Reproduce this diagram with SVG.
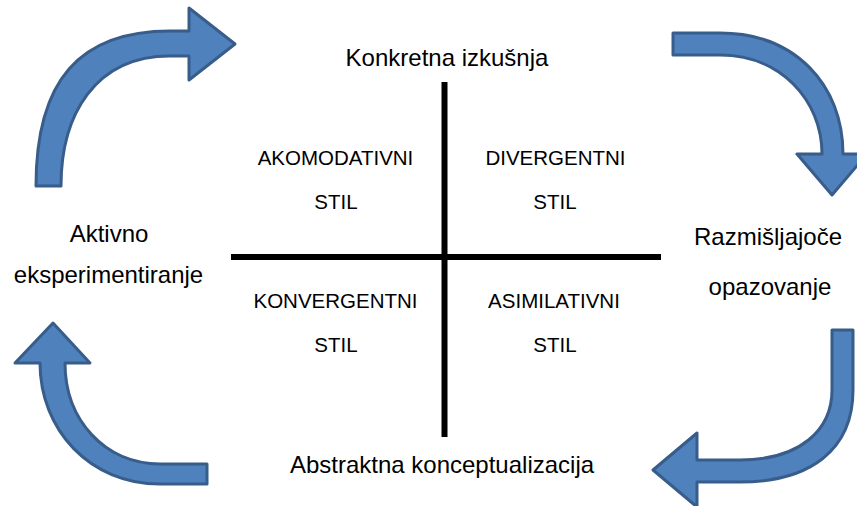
<svg xmlns="http://www.w3.org/2000/svg" width="857" height="506" viewBox="0 0 857 506">
<style>
.arrow{fill:#4F81BD;stroke:#385D8A;stroke-width:3;stroke-linejoin:round}
.axis{stroke:#000;stroke-width:6;fill:none}
.t{font-family:"Liberation Sans",Arial,sans-serif;font-size:24px;fill:#000;text-anchor:middle}
.q{font-family:"Liberation Sans",Arial,sans-serif;font-size:20.5px;fill:#000;text-anchor:middle}
</style>
<rect width="857" height="506" fill="#fff"/>
<g id="connectors">
<path class="arrow" d="M36,186 C36,80 80,31 170,31 L189,31 L189,8 L235,44 L189,80 L189,56 L170,56 C95,56 61,115 61,186 Z"/>
<path class="arrow" d="M673,33 L720,33 C795,33 843,85 843,154 L867,154 L832,195 L797,154 L822,154 C822,100 780,55 720,55 L673,55 Z"/>
<path class="arrow" d="M832,330 L853,330 L853,390 C853,450 810,482 740,482 L697,482 L697,507 L653,470 L697,433 L697,460 L740,460 C800,460 832,430 832,390 Z"/>
<path class="arrow" d="M207,464 L207,484 L160,484 C90,484 40,430 40,363 L15,363 L53,323 L90,363 L65,363 C65,420 105,464 160,464 Z"/>
</g>
<g id="axes">
<line class="axis" x1="444.5" y1="82" x2="444.5" y2="437"/>
<line class="axis" x1="231" y1="257" x2="661" y2="257"/>
</g>
<g id="konkretna"><text class="t" x="447" y="66">Konkretna izkušnja</text></g>
<g id="razmisljajoce"><text class="t" x="768" y="245">Razmišljajoče</text><text class="t" x="770" y="295">opazovanje</text></g>
<g id="abstraktna"><text class="t" x="442" y="473">Abstraktna konceptualizacija</text></g>
<g id="aktivno"><text class="t" x="109" y="242">Aktivno</text><text class="t" x="108.5" y="283">eksperimentiranje</text></g>
<g id="akomodativni"><text class="q" x="335.5" y="165">AKOMODATIVNI</text><text class="q" x="336" y="209">STIL</text></g>
<g id="divergentni"><text class="q" x="555.5" y="165">DIVERGENTNI</text><text class="q" x="555" y="209">STIL</text></g>
<g id="konvergentni"><text class="q" x="335.5" y="308">KONVERGENTNI</text><text class="q" x="336" y="352">STIL</text></g>
<g id="asimilativni"><text class="q" x="554" y="308">ASIMILATIVNI</text><text class="q" x="555" y="352">STIL</text></g>
</svg>
